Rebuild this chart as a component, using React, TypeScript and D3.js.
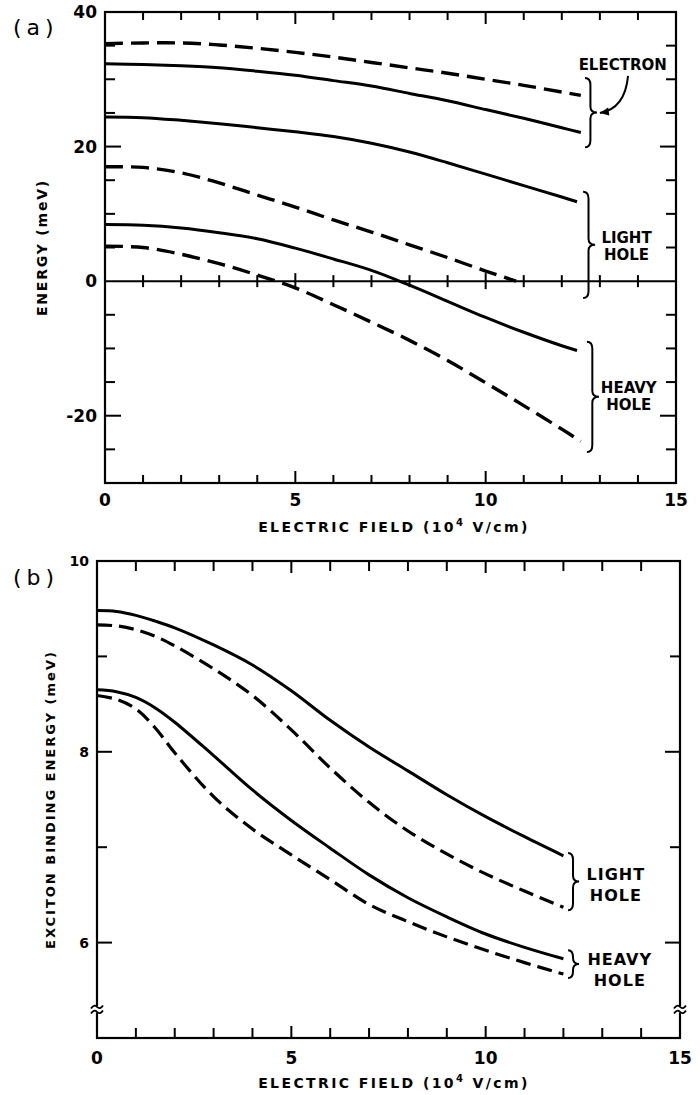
import React from 'react';
import * as d3 from 'd3';

// ---------- Panel (a): energy levels (meV) vs electric field (10^4 V/cm) ----------
const elecX = [0, 1, 2, 3, 4, 5, 6, 7, 8, 9, 10, 11, 12, 12.5];
const elecDashed = [35.3, 35.4, 35.4, 35.1, 34.6, 34.0, 33.3, 32.5, 31.7, 30.9, 30.0, 29.1, 28.1, 27.6];
const elecSolid = [32.3, 32.2, 32.0, 31.7, 31.2, 30.6, 29.8, 29.0, 27.9, 26.8, 25.5, 24.2, 22.8, 22.1];
const lhSolidX = [0, 1, 2, 3, 4, 5, 6, 7, 8, 9, 10, 11, 12, 12.4];
const lhSolid = [24.4, 24.3, 23.9, 23.4, 22.8, 22.2, 21.5, 20.5, 19.2, 17.6, 15.9, 14.2, 12.5, 11.8];
const lhDashedX = [0, 1, 2, 3, 4, 5, 6, 7, 8, 9, 10, 10.8];
const lhDashed = [17.0, 16.9, 16.1, 14.6, 12.8, 11.0, 9.1, 7.3, 5.4, 3.5, 1.5, 0];
const hhSolidX = [0, 1, 2, 3, 4, 5, 6, 7, 8, 9, 10, 11, 12, 12.4];
const hhSolid = [8.4, 8.3, 7.9, 7.2, 6.3, 4.9, 3.3, 1.6, -0.6, -3.0, -5.4, -7.6, -9.6, -10.3];
const hhDashedX = [0, 1, 2, 3, 4, 5, 6, 7, 8, 9, 10, 11, 12, 12.5];
const hhDashed = [5.2, 5.0, 4.0, 2.6, 0.9, -1.0, -3.5, -6.1, -8.8, -11.8, -15.1, -18.5, -22.0, -23.8];

// ---------- Panel (b): exciton binding energy (meV) ----------
const fieldB = [0, 0.5, 1, 1.5, 2, 3, 4, 5, 6, 7, 8, 9, 10, 11, 12];
const lhSolidB = [9.48, 9.47, 9.43, 9.37, 9.30, 9.12, 8.91, 8.64, 8.33, 8.05, 7.80, 7.55, 7.32, 7.11, 6.91];
const lhDashedB = [9.33, 9.32, 9.28, 9.21, 9.11, 8.87, 8.59, 8.23, 7.83, 7.47, 7.17, 6.93, 6.72, 6.54, 6.37];
const hhSolidB = [8.65, 8.63, 8.57, 8.46, 8.31, 7.96, 7.60, 7.28, 6.99, 6.71, 6.47, 6.27, 6.09, 5.95, 5.83];
const hhDashedB = [8.59, 8.55, 8.45, 8.25, 7.99, 7.53, 7.19, 6.92, 6.66, 6.40, 6.22, 6.06, 5.92, 5.79, 5.67];

// ticks
const xTickLabels = [0, 5, 10, 15];
const yTickLabelsA = [40, 20, 0, -20];
const yMinorA = [35, 30, 25, 15, 10, 5, -5, -10, -15, -25];
const yMajorA = [20, -20];
const yTickLabelsB = [10, 8, 6];
const yMinorB = [9, 7];
const yMajorB = [8, 6];

// annotation anchors (data units)
const bracesA = [
  { x: 12.61, y1: 30.2, y2: 19.9 },
  { x: 12.56, y1: 13.3, y2: -2.5 },
  { x: 12.66, y1: -9.0, y2: -25.4 },
];
const labelsA = [
  { x: 13.6, y: 31.4, lines: ['ELECTRON'] },
  { x: 13.7, y: 5.7, lines: ['LIGHT', 'HOLE'] },
  { x: 13.76, y: -16.6, lines: ['HEAVY', 'HOLE'] },
];
const bracesB = [
  { x: 12.12, y1: 6.94, y2: 6.34 },
  { x: 12.12, y1: 5.92, y2: 5.63 },
];
const labelsB = [
  { x: 13.35, y: 6.66, lines: ['LIGHT', 'HOLE'] },
  { x: 13.45, y: 5.76, lines: ['HEAVY', 'HOLE'] },
];
const arrowA = { x0: 13.74, y0: 30.5, cx: 13.66, cy: 25.6, x1: 13.0, y1: 25.0 };
const breakB = 5.3;

const FONT = '"DejaVu Sans", sans-serif';

function bracePath(x: number, y1: number, y2: number, w = 12) {
  const ym = (y1 + y2) / 2;
  const xv = x + w * 0.45;
  return `M${x},${y1} Q${xv},${y1} ${xv},${y1 + 7} L${xv},${ym - 6} Q${xv},${ym} ${x + w},${ym} Q${xv},${ym} ${xv},${ym + 6} L${xv},${y2 - 7} Q${xv},${y2} ${x},${y2}`;
}

function zip(xs: number[], ys: number[]): [number, number][] {
  return xs.map((x, i) => [x, ys[i]]);
}

export default function App() {
  const xA = d3.scaleLinear().domain([0, 15]).range([105, 676]);
  const yA = d3.scaleLinear().domain([-30, 40]).range([483, 12]);
  const xB = d3.scaleLinear().domain([0, 15]).range([97, 680]);
  const yB = d3.scaleLinear().domain([5, 10]).range([1038, 561]);

  const curve = d3.curveCatmullRom.alpha(0.5);
  const lineA = d3.line<[number, number]>().x(d => xA(d[0])).y(d => yA(d[1])).curve(curve);
  const lineB = d3.line<[number, number]>().x(d => xB(d[0])).y(d => yB(d[1])).curve(curve);

  const seriesA = [
    { pts: zip(elecX, elecDashed), dashed: true },
    { pts: zip(elecX, elecSolid), dashed: false },
    { pts: zip(lhSolidX, lhSolid), dashed: false },
    { pts: zip(lhDashedX, lhDashed), dashed: true },
    { pts: zip(hhSolidX, hhSolid), dashed: false },
    { pts: zip(hhDashedX, hhDashed), dashed: true },
  ];
  const seriesB = [
    { pts: zip(fieldB, lhSolidB), dashed: false },
    { pts: zip(fieldB, lhDashedB), dashed: true },
    { pts: zip(fieldB, hhSolidB), dashed: false },
    { pts: zip(fieldB, hhDashedB), dashed: true },
  ];

  const intTicks = d3.range(1, 15);
  const stroke = '#000';

  const [ax0, ax1] = xA.range();
  const [ayB, ayT] = yA.range();
  const [bx0, bx1] = xB.range();
  const [byB, byT] = yB.range();

  // arrow
  const ax = xA(arrowA.x1), ay = yA(arrowA.y1);
  const acx = xA(arrowA.cx), acy = yA(arrowA.cy);
  const ang = Math.atan2(ay - acy, ax - acx);
  const hl = 9, hw = 4;
  const head = [
    [ax, ay],
    [ax - hl * Math.cos(ang) + hw * Math.sin(ang), ay - hl * Math.sin(ang) - hw * Math.cos(ang)],
    [ax - hl * Math.cos(ang) - hw * Math.sin(ang), ay - hl * Math.sin(ang) + hw * Math.cos(ang)],
  ];

  const breakY = yB(breakB);
  const tilde = (cx: number, cy: number) =>
    `M${cx - 6},${cy + 1.5} Q${cx - 3},${cy - 3} ${cx},${cy} Q${cx + 3},${cy + 3} ${cx + 6},${cy - 1.5}`;

  return (
    <svg width={700} height={1095} style={{ position: 'absolute', left: 0, top: 0, background: '#fff' }}
      fontFamily={FONT}>
      <rect x={0} y={0} width={700} height={1095} fill="#fff" />

      {/* ================= Panel (a) ================= */}
      <text x={13} y={35} fontSize={22} letterSpacing={5} fontFamily={FONT}>(a)</text>
      <rect x={ax0} y={ayT} width={ax1 - ax0} height={ayB - ayT} fill="none" stroke={stroke} strokeWidth={2.2} />
      {/* zero line */}
      <line x1={ax0} x2={ax1} y1={yA(0)} y2={yA(0)} stroke={stroke} strokeWidth={2} />
      {intTicks.map(t => {
        const big = t % 5 === 0;
        const L = big ? 12 : 8;
        return (
          <g key={'ta' + t} stroke={stroke} strokeWidth={2}>
            <line x1={xA(t)} x2={xA(t)} y1={ayT} y2={ayT + L} />
            <line x1={xA(t)} x2={xA(t)} y1={ayB} y2={ayB - L} />
            <line x1={xA(t)} x2={xA(t)} y1={yA(0) - (big ? 8 : 6)} y2={yA(0) + (big ? 8 : 6)} />
          </g>
        );
      })}
      {yMinorA.map(v => (
        <g key={'ma' + v} stroke={stroke} strokeWidth={2}>
          <line x1={ax0} x2={ax0 + 10} y1={yA(v)} y2={yA(v)} />
          <line x1={ax1} x2={ax1 - 10} y1={yA(v)} y2={yA(v)} />
        </g>
      ))}
      {yMajorA.map(v => (
        <g key={'Ma' + v} stroke={stroke} strokeWidth={2}>
          <line x1={ax0} x2={ax0 + 16} y1={yA(v)} y2={yA(v)} />
          <line x1={ax1} x2={ax1 - 16} y1={yA(v)} y2={yA(v)} />
        </g>
      ))}
      {yTickLabelsA.map(v => (
        <text key={'la' + v} x={ax0 - 8} y={yA(v)} dy="0.36em" textAnchor="end" fontSize={17} fontWeight="bold">
          {v}
        </text>
      ))}
      {xTickLabels.map(v => (
        <text key={'lxa' + v} x={xA(v)} y={506} textAnchor="middle" fontSize={17} fontWeight="bold">{v}</text>
      ))}
      <text x={394} y={532} textAnchor="middle" fontSize={14} fontWeight="bold" letterSpacing={2.4}>
        ELECTRIC FIELD (10<tspan dy={-6} fontSize={10}>4</tspan><tspan dy={6}> V/cm)</tspan>
      </text>
      <text transform={`translate(47,${(ayB + ayT) / 2}) rotate(-90)`} textAnchor="middle" fontSize={14}
        fontWeight="bold" letterSpacing={1.8}>ENERGY (meV)</text>

      {seriesA.map((s, i) => (
        <path key={'sa' + i} d={lineA(s.pts) || ''} fill="none" stroke={stroke}
          strokeWidth={s.dashed ? 3.4 : 3} strokeDasharray={s.dashed ? '18 8' : undefined} />
      ))}

      {bracesA.map((b, i) => (
        <path key={'ba' + i} d={bracePath(xA(b.x), yA(b.y1), yA(b.y2))} fill="none" stroke={stroke} strokeWidth={2} />
      ))}
      {labelsA.map((l, i) => (
        <text key={'lba' + i} x={xA(l.x)} y={yA(l.y)} textAnchor="middle" fontSize={15} fontWeight="bold">
          {l.lines.map((ln, j) => (
            <tspan key={j} x={xA(l.x)} dy={j === 0 ? 0 : 17}>{ln}</tspan>
          ))}
        </text>
      ))}
      <path d={`M${xA(arrowA.x0)},${yA(arrowA.y0)} Q${acx},${acy} ${ax},${ay}`} fill="none" stroke={stroke} strokeWidth={2} />
      <polygon points={head.map(p => p.join(',')).join(' ')} fill={stroke} />

      {/* ================= Panel (b) ================= */}
      <text x={13} y={585} fontSize={22} letterSpacing={5} fontFamily={FONT}>(b)</text>
      <rect x={bx0} y={byT} width={bx1 - bx0} height={byB - byT} fill="none" stroke={stroke} strokeWidth={2.2} />
      {intTicks.map(t => {
        const big = t % 5 === 0;
        const L = big ? 12 : 10;
        return (
          <g key={'tb' + t} stroke={stroke} strokeWidth={2}>
            <line x1={xB(t)} x2={xB(t)} y1={byT} y2={byT + L} />
            <line x1={xB(t)} x2={xB(t)} y1={byB} y2={byB - L} />
          </g>
        );
      })}
      {yMinorB.map(v => (
        <g key={'mb' + v} stroke={stroke} strokeWidth={2}>
          <line x1={bx0} x2={bx0 + 10} y1={yB(v)} y2={yB(v)} />
          <line x1={bx1} x2={bx1 - 10} y1={yB(v)} y2={yB(v)} />
        </g>
      ))}
      {yMajorB.map(v => (
        <g key={'Mb' + v} stroke={stroke} strokeWidth={2}>
          <line x1={bx0} x2={bx0 + 15} y1={yB(v)} y2={yB(v)} />
          <line x1={bx1} x2={bx1 - 15} y1={yB(v)} y2={yB(v)} />
        </g>
      ))}
      {/* axis breaks */}
      {[bx0, bx1].map((bx, i) => (
        <g key={'br' + i}>
          <rect x={bx - 3} y={breakY - 3} width={6} height={6} fill="#fff" />
          <path d={tilde(bx, breakY - 2.5)} fill="none" stroke={stroke} strokeWidth={1.8} />
          <path d={tilde(bx, breakY + 2.5)} fill="none" stroke={stroke} strokeWidth={1.8} />
        </g>
      ))}
      {yTickLabelsB.map(v => (
        <text key={'lb' + v} x={bx0 - 8} y={yB(v)} dy="0.36em" textAnchor="end" fontSize={14} fontWeight="bold">
          {v}
        </text>
      ))}
      {xTickLabels.map(v => (
        <text key={'lxb' + v} x={xB(v)} y={1064} textAnchor="middle" fontSize={17} fontWeight="bold">{v}</text>
      ))}
      <text x={394} y={1088} textAnchor="middle" fontSize={14} fontWeight="bold" letterSpacing={2.4}>
        ELECTRIC FIELD (10<tspan dy={-6} fontSize={10}>4</tspan><tspan dy={6}> V/cm)</tspan>
      </text>
      <text transform={`translate(55,${(byB + byT) / 2}) rotate(-90)`} textAnchor="middle" fontSize={13}
        fontWeight="bold" letterSpacing={2}>EXCITON BINDING ENERGY (meV)</text>

      {seriesB.map((s, i) => (
        <path key={'sb' + i} d={lineB(s.pts) || ''} fill="none" stroke={stroke}
          strokeWidth={s.dashed ? 3.2 : 3} strokeDasharray={s.dashed ? '15 7' : undefined} />
      ))}
      {bracesB.map((b, i) => (
        <path key={'bb' + i} d={bracePath(xB(b.x), yB(b.y1), yB(b.y2), 11)} fill="none" stroke={stroke} strokeWidth={2} />
      ))}
      {labelsB.map((l, i) => (
        <text key={'lbb' + i} x={xB(l.x)} y={yB(l.y)} textAnchor="middle" fontSize={16} fontWeight="bold" letterSpacing={1}>
          {l.lines.map((ln, j) => (
            <tspan key={j} x={xB(l.x)} dy={j === 0 ? 0 : 21}>{ln}</tspan>
          ))}
        </text>
      ))}
    </svg>
  );
}
